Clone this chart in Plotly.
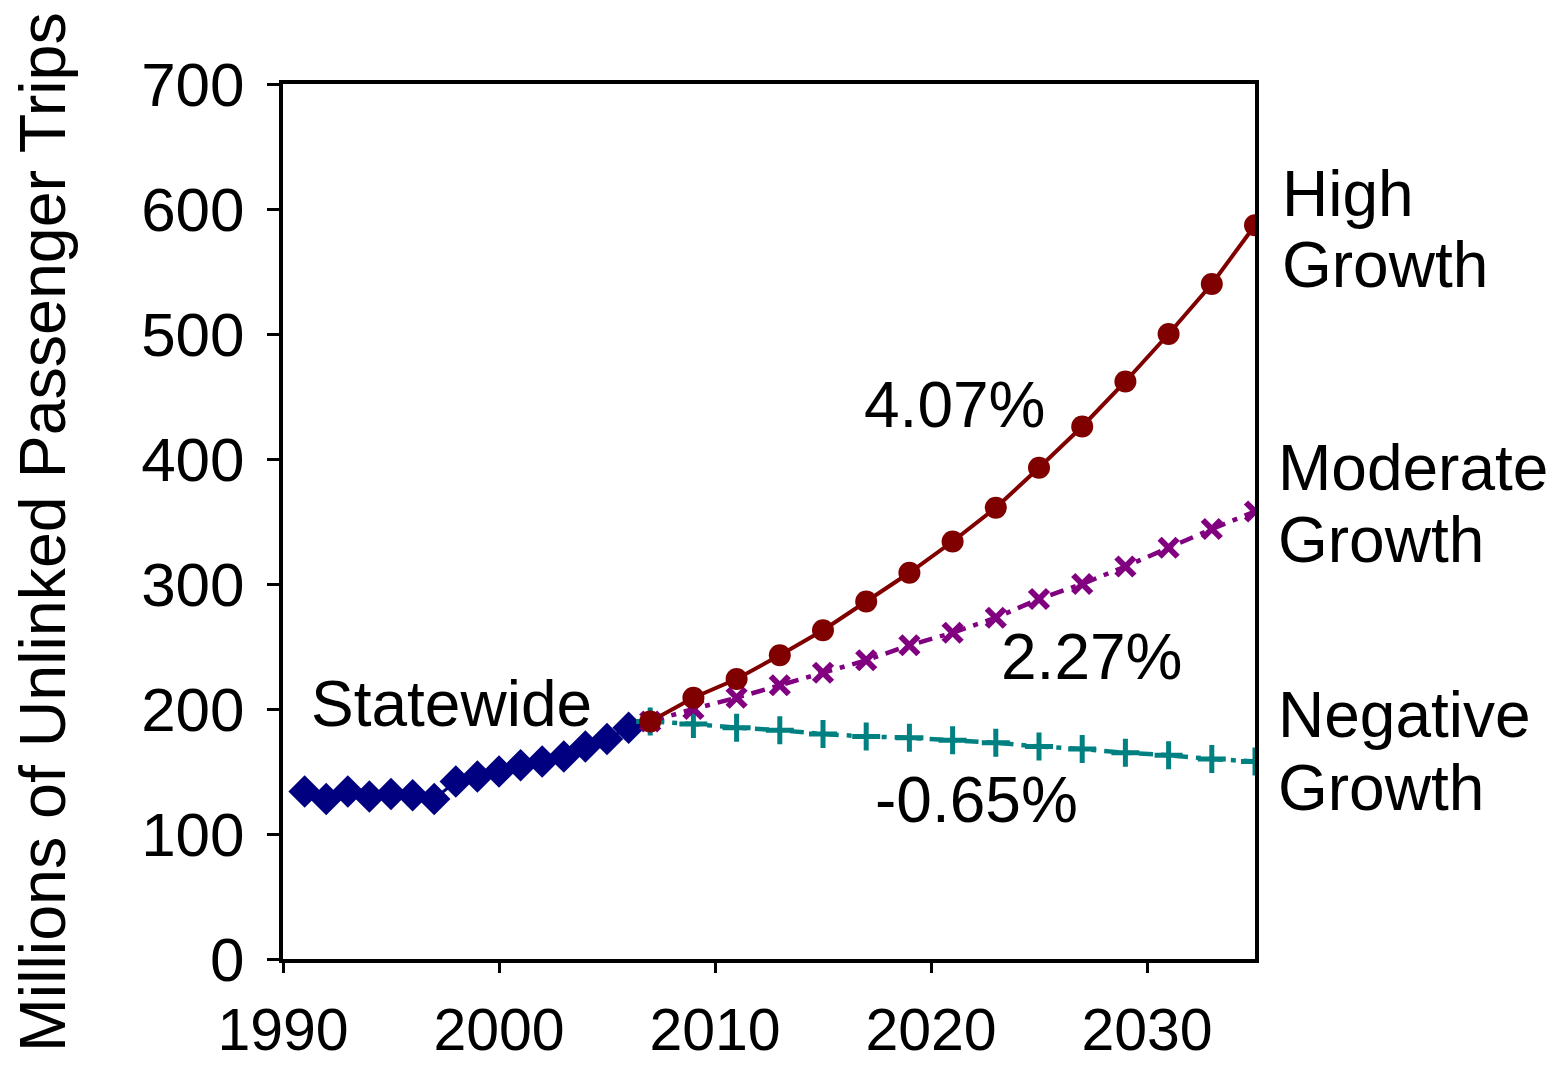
import plotly.graph_objects as go

# Historical statewide ridership (millions of unlinked passenger trips)
hist_years = list(range(1991, 2007))
hist_trips = [134, 128, 134, 130, 132, 131, 128, 142, 146, 150, 155, 158, 162, 170, 176, 185]

# Projection years (every two years from 2007)
proj_years = list(range(2007, 2036, 2))
high_growth = [190, 209, 224, 243, 263, 286, 309, 334, 361, 393, 426, 462, 500, 540, 587]
moderate_growth = [190, 200, 209, 219, 229, 239, 251, 261, 273, 288, 300, 314, 329, 344, 358]
negative_growth = [190, 188, 185, 183, 180, 178, 177, 175, 173, 170, 168, 165, 163, 160, 158]

x_ticks = [1990, 2000, 2010, 2020, 2030]
y_ticks = [0, 100, 200, 300, 400, 500, 600, 700]

FONT = "Liberation Sans, Arial, sans-serif"
DASH_DOT = "14px,8px,5px,8px"

fig = go.Figure()

fig.add_trace(go.Scatter(
    x=hist_years, y=hist_trips, mode="lines+markers",
    line=dict(color="#000080", width=3),
    marker=dict(symbol="diamond", size=25, color="#000080"),
    name="Statewide",
))
fig.add_trace(go.Scatter(
    x=proj_years, y=negative_growth, mode="lines+markers",
    line=dict(color="#008080", width=4.5, dash=DASH_DOT),
    marker=dict(symbol="cross-thin-open", size=20,
                line=dict(color="#008080", width=5)),
    name="Negative Growth",
))
fig.add_trace(go.Scatter(
    x=proj_years, y=moderate_growth, mode="lines+markers",
    line=dict(color="#800080", width=4.5, dash=DASH_DOT),
    marker=dict(symbol="x-thin-open", size=18,
                line=dict(color="#800080", width=6)),
    name="Moderate Growth",
))
fig.add_trace(go.Scatter(
    x=proj_years, y=high_growth, mode="lines+markers",
    line=dict(color="#800000", width=4),
    marker=dict(symbol="circle", size=22, color="#800000"),
    name="High Growth",
))

ann_font = dict(family=FONT, size=64, color="black")
annotations = [
    dict(x=1991.2, y=204, xref="x", yref="y", text="Statewide", xanchor="left"),
    dict(x=2021.1, y=443, xref="x", yref="y", text="4.07%", xanchor="center"),
    dict(x=2027.45, y=242, xref="x", yref="y", text="2.27%", xanchor="center"),
    dict(x=2022.1, y=127, xref="x", yref="y", text="-0.65%", xanchor="center"),
    dict(x=1.026, y=612, xref="paper", yref="y", text="High", xanchor="left"),
    dict(x=1.026, y=555, xref="paper", yref="y", text="Growth", xanchor="left"),
    dict(x=1.022, y=393, xref="paper", yref="y", text="Moderate", xanchor="left"),
    dict(x=1.022, y=335, xref="paper", yref="y", text="Growth", xanchor="left"),
    dict(x=1.022, y=195, xref="paper", yref="y", text="Negative", xanchor="left"),
    dict(x=1.022, y=137, xref="paper", yref="y", text="Growth", xanchor="left"),
]
for a in annotations:
    a.update(showarrow=False, yanchor="middle", font=ann_font)

annotations.append(dict(
    x=-0.247, y=0.488, xref="paper", yref="paper",
    text="Millions of Unlinked Passenger Trips", textangle=-90,
    showarrow=False, xanchor="center", yanchor="middle",
    font=dict(family=FONT, size=64.5, color="black"),
))

fig.update_layout(
    width=1567, height=1067,
    margin=dict(l=283, r=312, t=84, b=108, autoexpand=False),
    paper_bgcolor="white", plot_bgcolor="white",
    showlegend=False,
    annotations=annotations,
    font=dict(family=FONT, color="black"),
)
fig.update_xaxes(
    range=[1990, 2035], tickvals=x_ticks, ticktext=[str(v) for v in x_ticks],
    showgrid=False, zeroline=False, automargin=False,
    showline=True, linewidth=4, linecolor="black", mirror=True,
    ticks="outside", ticklen=10, tickwidth=3, tickcolor="black",
    ticklabelstandoff=6,
    tickfont=dict(family=FONT, size=59, color="black"),
)
fig.update_yaxes(
    range=[0, 700], tickvals=y_ticks, ticktext=[str(v) for v in y_ticks],
    showgrid=False, zeroline=False, automargin=False,
    showline=True, linewidth=4, linecolor="black", mirror=True,
    ticks="outside", ticklen=12, tickwidth=3, tickcolor="black",
    ticklabelstandoff=10,
    tickfont=dict(family=FONT, size=62, color="black"),
)

fig.write_html("out.html")
